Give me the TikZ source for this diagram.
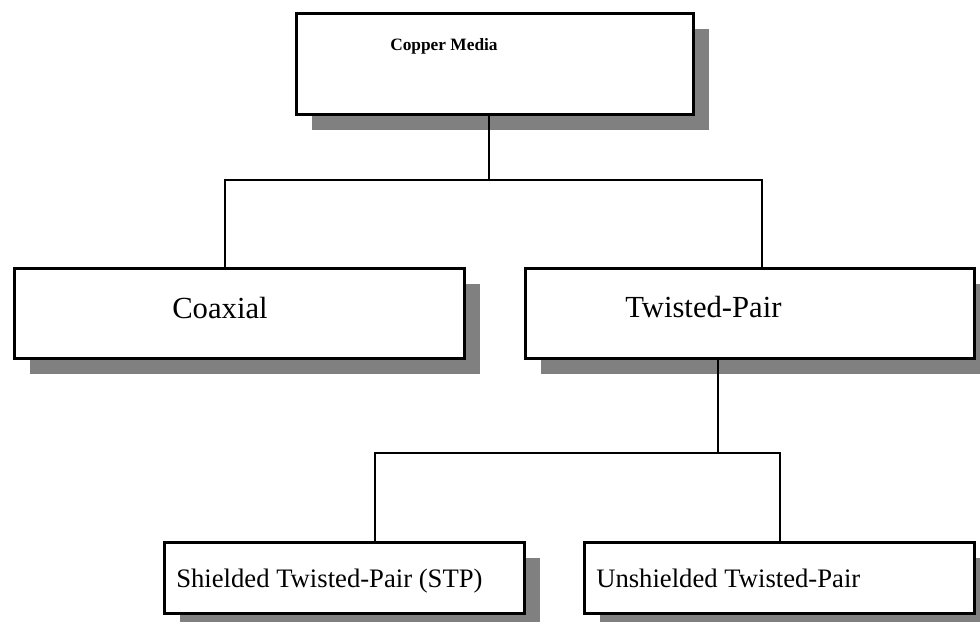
\documentclass[tikz,border=0pt]{standalone}
\usepackage{fontspec}
\setmainfont{Liberation Serif}
\usetikzlibrary{shadows}
\tikzset{
  box/.style={draw, line width=2pt, fill=white, anchor=north west, inner sep=0pt,
    drop shadow={shadow xshift=12pt, shadow yshift=-12pt, fill=black!50, opacity=1}},
  conn/.style={line width=2pt},
  lbl/.style={anchor=base west, inner sep=0pt}
}
\begin{document}
\begin{tikzpicture}[x=0.75pt,y=-0.75pt]
\useasboundingbox (0,0) rectangle (980,621);
\clip (0,0) rectangle (980,621);
% boxes
\node[box, minimum width=297.75pt, minimum height=75.75pt] (cu) at (295,12) {};
\node[box, minimum width=337.5pt, minimum height=67.5pt] (coax) at (13,267) {};
\node[box, minimum width=336.75pt, minimum height=67.5pt] (tp) at (524,267) {};
\node[box, minimum width=270pt, minimum height=53.25pt] (stp) at (163,541) {};
\node[box, minimum width=292.5pt, minimum height=53.25pt] (utp) at (583,541) {};
% labels
\node[lbl, font=\fontsize{13}{15}\selectfont\bfseries] (tcu) at (390,50) {Copper Media};
\node[lbl, font=\fontsize{23}{27}\selectfont] (tcoax) at (172,318) {Coaxial};
\node[lbl, font=\fontsize{23}{27}\selectfont] (ttp) at (625,317) {Twisted-Pair};
\node[lbl, font=\fontsize{20}{24}\selectfont] (tstp) at (176,587) {Shielded Twisted-Pair (STP)};
\node[lbl, font=\fontsize{20}{24}\selectfont] (tutp) at (596,587) {Unshielded Twisted-Pair};
% connectors
\coordinate (a1) at (489,180);
\coordinate (a2) at (225,180);
\coordinate (a3) at (762,180);
\draw[conn] (cu.south -| a1) -- (a1);
\draw[conn] (coax.north -| a2) -- (a2) -- (a3) -- (tp.north -| a3);
\coordinate (b1) at (718,453);
\coordinate (b2) at (375,453);
\coordinate (b3) at (780,453);
\draw[conn] (tp.south -| b1) -- (b1);
\draw[conn] (stp.north -| b2) -- (b2) -- (b3) -- (utp.north -| b3);
\end{tikzpicture}
\end{document}
